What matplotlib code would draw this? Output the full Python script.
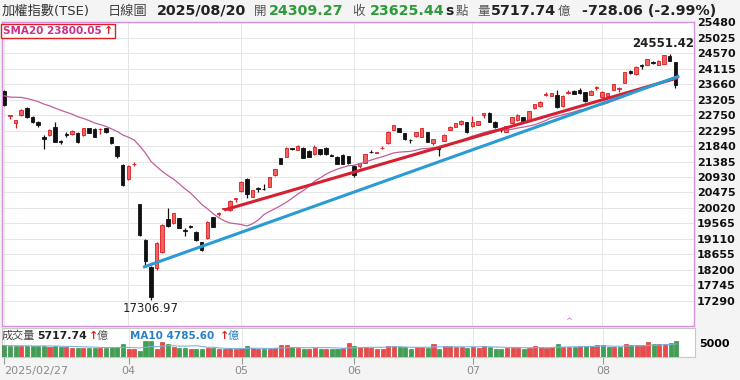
import numpy as np
import pandas as pd
import matplotlib
matplotlib.use('Agg')
import matplotlib.pyplot as plt
from matplotlib.patches import Rectangle

plt.rcParams['font.family'] = ['DejaVu Sans', 'Noto Sans CJK TC']

# trading days 2025/02/27 - 2025/08/20 (TWSE holidays removed)
holidays = ['2025-02-28', '2025-04-03', '2025-04-04', '2025-05-01', '2025-05-30']
dates = pd.bdate_range('2025-02-27', '2025-08-20').drop(pd.to_datetime(holidays))

opens = [
    23468, 22730, 22510, 22750, 22950, 22700, 22560, 22116, 22165, 22410,
    21990, 22185, 22195, 22233, 22165, 22362, 22340, 22330, 22362, 22098,
    21840, 21283, 20870, 21300, 20137, 19076, 18293, 18245, 18735, 19686,
    19569, 19716, 19360, 19475, 19322, 19010, 19128, 19745, 19850, 19980,
    19960, 20270, 20520, 20860, 20350, 20600, 20590, 20645, 20990, 21480,
    21527, 21770, 21724, 21792, 21695, 21598, 21745, 21774, 21585, 21527,
    21577, 21548, 21254, 21240, 21350, 21680, 21650, 21770, 21922, 22313,
    22362, 22210, 22030, 22136, 22116, 22245, 21940, 21800, 21995, 22313,
    22410, 22490, 22540, 22420, 22470, 22760, 22822, 22557, 22330, 22263,
    22530, 22607, 22687, 22607, 22950, 23018, 23350, 23313, 23342, 23018,
    23410, 23469, 23489, 23422, 23342, 23560, 23275, 23300, 23489, 23520,
    23700, 24060, 23950, 24230, 24225, 24320, 24225, 24254, 24500, 24309.27,
]
highs = [
    23500, 22760, 22620, 22920, 22980, 22720, 22580, 22180, 22330, 22540,
    22010, 22265, 22300, 22250, 22380, 22380, 22360, 22360, 22380, 22110,
    21850, 21300, 21270, 21380, 20140, 19100, 18300, 19030, 19540, 20010,
    19880, 19730, 19440, 19530, 19340, 19020, 19630, 19760, 19890, 20020,
    20250, 20320, 20800, 20900, 20560, 20640, 20720, 20930, 21170, 21500,
    21800, 21780, 21860, 21800, 21710, 21880, 21760, 21800, 21620, 21540,
    21600, 21560, 21270, 21350, 21620, 21720, 21670, 21840, 22280, 22470,
    22380, 22220, 22060, 22250, 22370, 22260, 22060, 21810, 22190, 22420,
    22520, 22600, 22560, 22730, 22590, 22810, 22840, 22570, 22380, 22440,
    22700, 22770, 22700, 22880, 23090, 23160, 23440, 23400, 23500, 23330,
    23480, 23480, 23540, 23440, 23480, 23620, 23450, 23400, 23670, 23570,
    24020, 24080, 24185, 24260, 24400, 24352, 24360, 24530, 24551.42, 24310,
]
lows = [
    23010, 22630, 22360, 22720, 22680, 22530, 22410, 21745, 22140, 21950,
    21900, 22100, 22180, 21930, 22150, 22210, 22100, 22200, 22230, 21900,
    21500, 20660, 20850, 21240, 19200, 18300, 17306.97, 18200, 18700, 19470,
    19550, 19420, 19200, 19420, 19060, 18760, 19110, 19450, 19790, 19950,
    19940, 20200, 20500, 20320, 20330, 20500, 20560, 20630, 20970, 21300,
    21510, 21730, 21710, 21480, 21510, 21590, 21580, 21590, 21550, 21300,
    21300, 21320, 20921, 21200, 21340, 21640, 21640, 21740, 21910, 22300,
    22250, 22020, 21920, 22120, 22100, 21950, 21880, 21550, 21980, 22300,
    22400, 22470, 22230, 22400, 22460, 22680, 22540, 22380, 22260, 22250,
    22520, 22590, 22570, 22590, 22940, 23000, 23310, 23300, 22970, 23000,
    23380, 23360, 23380, 23130, 23330, 23500, 23260, 23240, 23480, 23430,
    23690, 23960, 23940, 24120, 24210, 24250, 24215, 24240, 24340, 23560,
]
closes = [
    23048, 22755, 22600, 22900, 22700, 22560, 22460, 22040, 22312, 21968,
    21950, 22165, 22283, 21951, 22362, 22233, 22116, 22345, 22245, 21922,
    21548, 20695, 21250, 21310, 19232, 18459, 17392, 19000, 19528, 19490,
    19863, 19440, 19330, 19460, 19077, 18783, 19616, 19470, 19880, 20010,
    20232, 20310, 20792, 20420, 20548, 20580, 20570, 20921, 21157, 21313,
    21792, 21745, 21850, 21498, 21527, 21822, 21598, 21606, 21560, 21313,
    21313, 21333, 20990, 21330, 21607, 21660, 21665, 21790, 22263, 22460,
    22263, 22040, 22010, 22240, 22362, 21968, 22048, 21760, 22180, 22410,
    22510, 22590, 22245, 22560, 22575, 22800, 22557, 22392, 22300, 22430,
    22687, 22754, 22587, 22873, 23077, 23145, 23380, 23390, 22980, 23313,
    23430, 23370, 23390, 23175, 23469, 23577, 23440, 23390, 23657, 23557,
    24010, 24000, 24175, 24200, 24392, 24290, 24352, 24520, 24353.5, 23625.44,
]
# volume in 億
volumes = [
    4350, 3950, 3950, 3900, 3950, 3900, 3850, 4100, 3800, 3900,
    3700, 3600, 3300, 3400, 3200, 3400, 3300, 3100, 3300, 3500,
    3800, 4600, 2800, 2700, 2100, 5850, 5900, 2900, 5500, 4600,
    3700, 3400, 3200, 3000, 2900, 2800, 3100, 3200, 2900, 3000,
    3300, 2700, 3350, 4000, 3100, 2750, 2750, 3000, 3350, 4200,
    4200, 3700, 3350, 3000, 3000, 3100, 3000, 3000, 3000, 3000,
    3350, 5000, 4000, 3700, 3700, 3350, 3000, 3000, 4000, 4000,
    3700, 3700, 3000, 3700, 3700, 3350, 4600, 3000, 4000, 4000,
    3700, 3700, 3350, 3700, 3350, 4000, 3700, 3000, 3000, 3350,
    3350, 3350, 3000, 3350, 4000, 3700, 3350, 3700, 4600, 3700,
    3700, 3700, 4000, 4000, 4000, 4200, 4200, 3700, 3700, 3700,
    4600, 4200, 4200, 4200, 5500, 4800, 4800, 4800, 5200, 5717.74,
]
# sessions before 02/27, only needed for the moving averages
prev_closes = [23525, 22694, 23006, 23318, 23420, 23478, 23405, 23380, 23291, 23210,
               23350, 23400, 23450, 23380, 23480, 23550, 23300, 23310, 23380]
prev_volumes = [4300, 4100, 3900, 4200, 4400, 4000, 3900, 4100, 4200]

tick_labels = ['2025/02/27', '04', '05', '06', '07', '08']
tick_months = [2, 4, 5, 6, 7, 8]

# hand drawn trend lines (index, price)
trend_red = ([39, 119.5], [19960, 23850])
trend_blue = ([24.6, 119.7], [18274, 23900])
event_idx = [100]

header_date = '2025/08/20'
sma20_last = 23800.05
vol_ma10_last = 4785.60

# ---------------------------------------------------------------
o, h, l, c = map(np.array, (opens, highs, lows, closes))
x = np.arange(len(c))
up = c >= o
sma20 = pd.Series(np.r_[prev_closes, c]).rolling(20).mean().values[len(prev_closes):]
vma10 = pd.Series(np.r_[prev_volumes, volumes]).rolling(10).mean().values[len(prev_volumes):]
chg = c - np.r_[prev_closes[-1], c[:-1]]

tick_pos = []
for m in tick_months:
    tick_pos.append(int(np.where(dates.month == m)[0][0]))

W, H = 740, 380
fig = plt.figure(figsize=(7.4, 3.8), dpi=100, facecolor='#f4f4f4')
xmin, xmax = -0.41, 122.3

ax = fig.add_axes([2 / W, 1 - 326 / H, 692 / W, 304 / H])
ax.set_facecolor('white')
ax.set_xlim(xmin, xmax)
ax.set_ylim(16548, 25489)

yt = np.arange(17290, 25481, 455)
ax.set_yticks(yt)
ax.yaxis.tick_right()
ax.tick_params(axis='y', length=0, pad=2, labelsize=8, labelcolor='#111111')
for lb in ax.get_yticklabels():
    lb.set_fontweight('bold')
ax.set_xticks(tick_pos)
ax.tick_params(axis='x', length=0, labelbottom=False)
ax.grid(color='#e6e6e6', lw=0.7, zorder=0)
ax.set_axisbelow(True)
for s in ax.spines.values():
    s.set_color('#d890dc')
    s.set_linewidth(1)

# candles
edge = np.where(up, '#d81e1e', '#111111')
face = np.where(up, '#f26262', '#111111')
ax.vlines(x, l, h, colors=edge, lw=0.9, zorder=3)
ax.bar(x, np.maximum(np.abs(c - o), 14), bottom=np.minimum(o, c), width=0.62,
       color=face, edgecolor=edge, linewidth=0.6, zorder=4)

ax.plot(x, sma20, color='#c0609a', lw=0.9, zorder=5)
ax.plot(*trend_red, color='#d42030', lw=2.2, zorder=6, solid_capstyle='butt')
ax.plot(*trend_blue, color='#2b9bd3', lw=2.2, zorder=6, solid_capstyle='butt')

hi_i = int(np.argmax(h))
lo_i = int(np.argmin(l))
ax.annotate(f'{h[hi_i]:.2f}', xy=(hi_i, h[hi_i]), xytext=(-5, 3), textcoords='offset points',
            ha='center', va='bottom', fontsize=8.5, fontweight='bold', color='#222222')
ax.annotate(f'{l[lo_i]:.2f}', xy=(lo_i, l[lo_i]), xytext=(0, -1), textcoords='offset points',
            ha='center', va='top', fontsize=8.5, color='#222222')
for e in event_idx:
    ax.text(e, 16560, '^', ha='center', va='bottom', fontsize=6, color='#d070d0')

# volume panel
axv = fig.add_axes([2 / W, 1 - 356.7 / H, 693 / W, 28.4 / H])
axv.set_facecolor('white')
axv.set_xlim(xmin, xmax)
axv.set_ylim(0, 10600)
vface = np.where(chg >= 0, '#ea4a4a', '#3ea050')
vedge = np.where(chg >= 0, '#c82828', '#2a8038')
axv.bar(x, volumes, width=0.72, color=vface, edgecolor=vedge, linewidth=0.4, zorder=3)
axv.plot(x, vma10, color='#7ab4dc', lw=0.8, zorder=4)
axv.set_yticks([5000])
axv.yaxis.tick_right()
axv.tick_params(axis='y', length=0, pad=3, labelsize=8)
for lb in axv.get_yticklabels():
    lb.set_fontweight('bold')
axv.set_xticks(tick_pos)
axv.set_xticklabels(tick_labels)
axv.tick_params(axis='x', length=5, color='#999999', labelcolor='#8a8a8a', labelsize=8, pad=2)
axv.get_xticklabels()[0].set_horizontalalignment('left')
axv.grid(axis='x', color='#e6e6e6', lw=0.7)
axv.set_axisbelow(True)
for s in axv.spines.values():
    s.set_color('#c8c8c8')
    s.set_linewidth(0.8)


def ftext(px, py, s, **kw):
    fig.text(px / W, 1 - py / H, s, va='center', **kw)


# header
green = '#2e9a3a'
ftext(2, 11, '加權指數(TSE)', fontsize=9.5, color='#333333')
ftext(108, 11, '日線圖', fontsize=9.5, color='#444444')
ftext(157, 11, header_date, fontsize=10.3, fontweight='bold', color='#222222')
ftext(254, 11, '開', fontsize=9, color='#555555')
ftext(269, 11, f'{o[-1]:.2f}', fontsize=10.3, fontweight='bold', color=green)
ftext(352, 11, '收', fontsize=9, color='#555555')
ftext(370, 11, f'{c[-1]:.2f}', fontsize=10.3, fontweight='bold', color=green)
ftext(445, 11, 's', fontsize=10, fontweight='bold', color='#222222')
ftext(456, 11, '點', fontsize=9, color='#555555')
ftext(477, 11, '量', fontsize=9, color='#555555')
ftext(491, 11, f'{volumes[-1]:.2f}', fontsize=10.3, fontweight='bold', color='#222222')
ftext(558, 11, '億', fontsize=9, color='#555555')
diff = c[-1] - c[-2]
ftext(582, 11, f'{diff:.2f} ({diff / c[-2] * 100:.2f}%)', fontsize=10.3, fontweight='bold',
      color='#222222')

# SMA20 box
fig.add_artist(Rectangle((1 / W, 1 - 38 / H), 114 / W, 14 / H, transform=fig.transFigure,
                         facecolor='white', edgecolor='#e02020', lw=1, zorder=10))
ftext(3, 31, f'SMA20 {sma20_last:.2f}', fontsize=7.5, fontweight='bold', color='#c8308a', zorder=11)
ftext(104, 31, '↑', fontsize=8, fontweight='bold', color='#e02020', zorder=11)

# volume labels
ftext(2, 336, '成交量', fontsize=8, color='#444444')
ftext(37, 336, f'{volumes[-1]:.2f}', fontsize=7.8, fontweight='bold', color='#222222')
ftext(89, 336, '↑', fontsize=8, fontweight='bold', color='#e02020')
ftext(97, 336, '億', fontsize=8, color='#555555')
ftext(130, 336, f'MA10 {vol_ma10_last:.2f}', fontsize=7.5, fontweight='bold', color='#2a80c8')
ftext(220, 336, '↑', fontsize=8, fontweight='bold', color='#e02020')
ftext(228, 336, '億', fontsize=8, color='#2a80c8')

fig.savefig('out.png', dpi=100, facecolor=fig.get_facecolor())
